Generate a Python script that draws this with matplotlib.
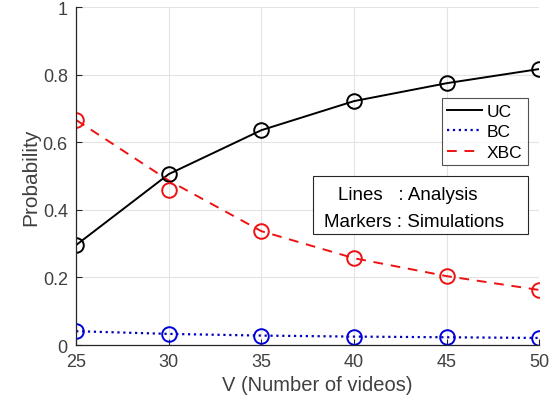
import matplotlib.pyplot as plt
from matplotlib.patches import Rectangle

plt.rcParams['font.family'] = ['Liberation Sans', 'DejaVu Sans']

V = [25, 30, 35, 40, 45, 50]

# analysis (lines)
ucLine = [0.296, 0.506, 0.636, 0.722, 0.775, 0.817]
bcLine = [0.041, 0.033, 0.028, 0.025, 0.023, 0.021]
xbcLine = [0.666, 0.487, 0.337, 0.257, 0.204, 0.163]

# simulations (markers)
ucSim = [0.296, 0.506, 0.636, 0.722, 0.775, 0.817]
bcSim = [0.041, 0.033, 0.027, 0.024, 0.024, 0.021]
xbcSim = [0.666, 0.459, 0.337, 0.257, 0.204, 0.163]

tickColor = '#404040'

fig = plt.figure(figsize=(5.6, 4.1), dpi=100)
ax = fig.add_axes([0.136, 0.156, 0.827, 0.824])

ax.plot(V, ucLine, '-', color='black', lw=1.4, label='UC')
ax.plot(V, bcLine, ':', color='#0000bb', lw=1.6, label='BC')
ax.plot(V, xbcLine, '--', color='#ee1111', lw=1.4, dashes=(5, 4), label='XBC')

ax.plot(V, ucSim, 'o', mfc='none', mec='black', ms=10.5, mew=1.4)
ax.plot(V, bcSim, 'o', mfc='none', mec='#0000dd', ms=10.5, mew=1.4)
ax.plot(V, xbcSim, 'o', mfc='none', mec='#ee1111', ms=10.5, mew=1.4)

ax.set_xlim(25, 50)
ax.set_ylim(0, 1)
ax.set_xticks(V)
ax.set_yticks([0, 0.2, 0.4, 0.6, 0.8, 1])
ax.set_yticklabels(['0', '0.2', '0.4', '0.6', '0.8', '1'])
ax.grid(True, color='#e3e3e3', lw=0.8)
ax.set_axisbelow(True)
for s in ['top', 'right']:
    ax.spines[s].set_visible(False)
for s in ['left', 'bottom']:
    ax.spines[s].set_color('#262626')
    ax.spines[s].set_linewidth(0.9)
ax.tick_params(direction='in', length=4, colors='#262626', labelcolor=tickColor,
               labelsize=13, pad=6)

ax.set_xlabel('V (Number of videos)', fontsize=14.5, color=tickColor, labelpad=2)
ax.xaxis.set_label_coords(0.52, -0.09)
ax.set_ylabel('Probability', fontsize=15, color=tickColor, labelpad=2)

leg = ax.legend(loc='upper right', bbox_to_anchor=(0.975, 0.73), fontsize=12.5,
                frameon=True, fancybox=False, edgecolor='#262626',
                handlelength=2.0, handletextpad=0.3, borderpad=0.3,
                labelspacing=0.32, borderaxespad=0)
leg.get_frame().set_linewidth(0.8)

ax.add_patch(Rectangle((0.512, 0.328), 0.464, 0.172, transform=ax.transAxes,
                       fill=True, facecolor='white', edgecolor='#262626', lw=0.8, zorder=5))
ax.text(0.565, 0.447, 'Lines   : Analysis', transform=ax.transAxes, fontsize=13.5,
        va='center', ha='left', zorder=6)
ax.text(0.535, 0.367, 'Markers : Simulations', transform=ax.transAxes, fontsize=13.5,
        va='center', ha='left', zorder=6)

fig.savefig('out.png', dpi=100)
